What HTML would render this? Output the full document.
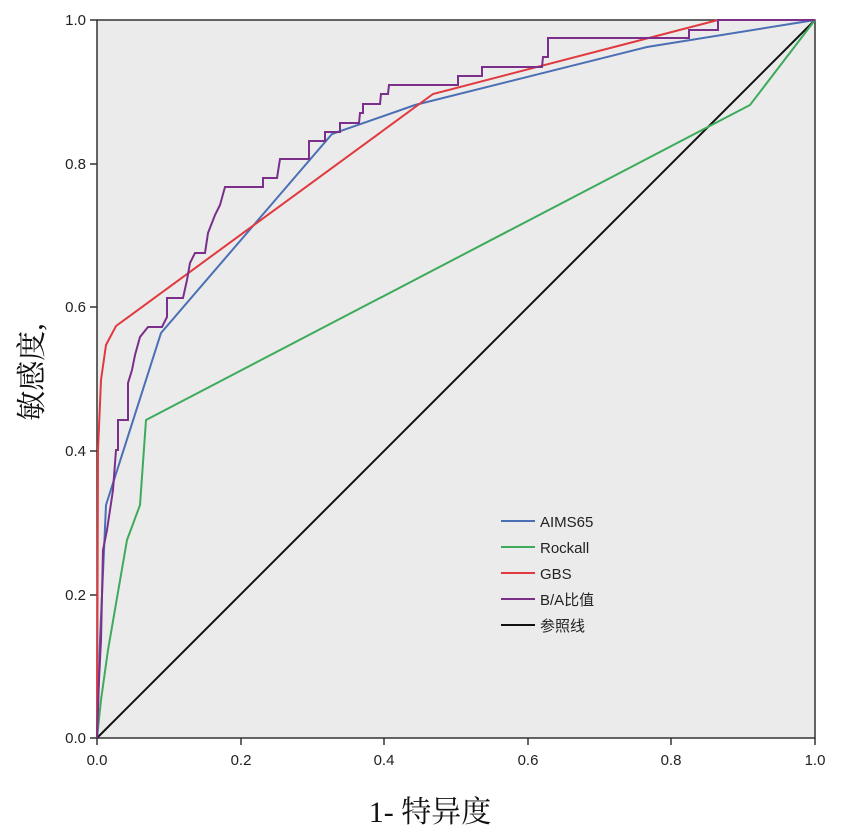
<!DOCTYPE html>
<html><head><meta charset="utf-8"><style>
body{margin:0;background:#fff;}
</style></head><body>
<svg width="841" height="837" xmlns="http://www.w3.org/2000/svg" style="display:block">
<rect x="0" y="0" width="841" height="837" fill="#fff"/>
<rect x="97" y="20" width="718" height="718" fill="#ebebeb" stroke="#333" stroke-width="1.5"/>
<g stroke="#333" stroke-width="1.5">
<line x1="90" y1="20" x2="97" y2="20"/><line x1="90" y1="164" x2="97" y2="164"/><line x1="90" y1="307" x2="97" y2="307"/><line x1="90" y1="451" x2="97" y2="451"/><line x1="90" y1="595" x2="97" y2="595"/><line x1="90" y1="738" x2="97" y2="738"/>
<line x1="97" y1="738" x2="97" y2="745"/><line x1="241" y1="738" x2="241" y2="745"/><line x1="384" y1="738" x2="384" y2="745"/><line x1="528" y1="738" x2="528" y2="745"/><line x1="671" y1="738" x2="671" y2="745"/><line x1="815" y1="738" x2="815" y2="745"/>
</g>
<g font-family="Liberation Sans, sans-serif" font-size="15" fill="#222" text-anchor="end">
<text x="86" y="25">1.0</text><text x="86" y="169">0.8</text><text x="86" y="312">0.6</text><text x="86" y="456">0.4</text><text x="86" y="600">0.2</text><text x="86" y="743">0.0</text>
</g>
<g font-family="Liberation Sans, sans-serif" font-size="15" fill="#222" text-anchor="middle">
<text x="97" y="765">0.0</text><text x="241" y="765">0.2</text><text x="384" y="765">0.4</text><text x="528" y="765">0.6</text><text x="671" y="765">0.8</text><text x="815" y="765">1.0</text>
</g>
<text x="430" y="822" font-family="Liberation Serif, Noto Serif CJK SC, serif" font-size="30" text-anchor="middle" fill="#111">1- 特异度</text>
<text transform="translate(42,372) rotate(-90)" font-family="Liberation Serif, Noto Serif CJK SC, serif" font-size="30" text-anchor="middle" fill="#111">敏感度,</text>
<line x1="97" y1="738" x2="815" y2="20" stroke="#111" stroke-width="2"/>
<polyline fill="none" stroke="#3dab5a" stroke-width="2" points="97,738 101,700 108,650 127,540 140,505 146,420 750,105 815,20"/>
<polyline fill="none" stroke="#4a6fb5" stroke-width="2" points="97,738 100,640 106,505 161,333 332,134 415,105 647,47 815,20"/>
<polyline fill="none" stroke="#e0393f" stroke-width="2" points="97,738 98,450 101,380 106,345 116,326 433,94 718,20 815,20"/>
<polyline fill="none" stroke="#7a2f8a" stroke-width="2" points="97,738 99,680 101,640 103,550 107,530 110,510 113,490 116,450 118,450 118,420 128,420 128,383 132,370 135,355 140,337 148,327 162,327 167,317 167,298 183,298 187,280 190,263 195,253 205,253 208,233 215,215 220,205 225,187 263,187 263,178 277,178 280,159 309,159 309,141 325,141 325,132 340,132 340,123 359,123 360,113 363,113 363,104 380,104 381,94 388,94 389,85 458,85 458,76 482,76 482,67 542,67 543,57 548,57 548,38 689,38 689,30 718,30 718,20 815,20"/>
<g stroke-width="2">
<line x1="501" y1="521" x2="535" y2="521" stroke="#4a6fb5"/>
<line x1="501" y1="547" x2="535" y2="547" stroke="#3dab5a"/>
<line x1="501" y1="573" x2="535" y2="573" stroke="#e0393f"/>
<line x1="501" y1="599" x2="535" y2="599" stroke="#7a2f8a"/>
<line x1="501" y1="625" x2="535" y2="625" stroke="#111"/>
</g>
<g font-family="Liberation Sans, Noto Sans CJK SC, sans-serif" font-size="15" fill="#222">
<text x="540" y="527">AIMS65</text><text x="540" y="553">Rockall</text><text x="540" y="579">GBS</text><text x="540" y="605">B/A比值</text><text x="540" y="631">参照线</text>
</g>
</svg>
</body></html>
